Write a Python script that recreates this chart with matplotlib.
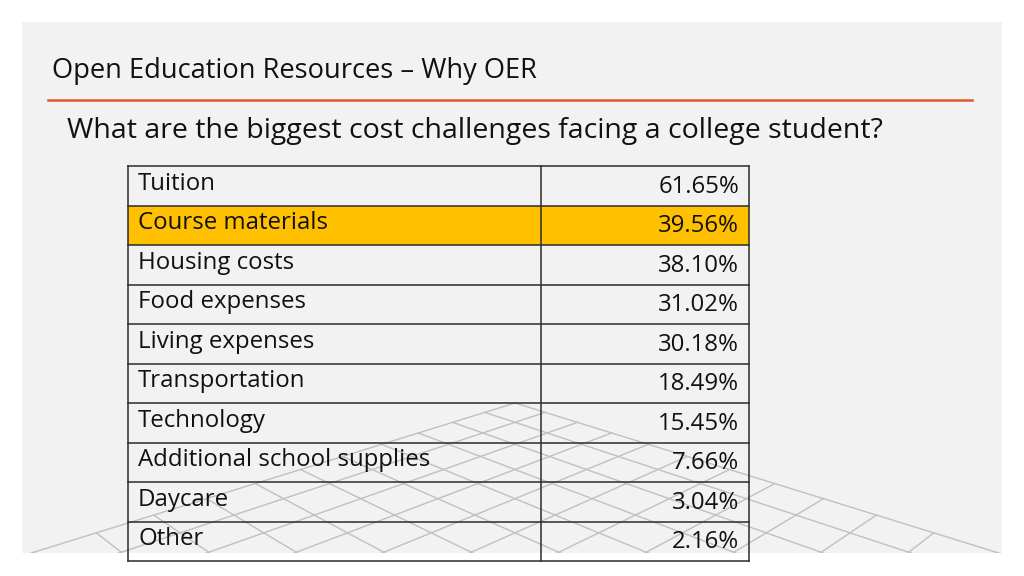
import numpy as np
import matplotlib as mpl
mpl.use("agg")
import matplotlib.pyplot as plt
from matplotlib.patches import Rectangle

plt.rcParams['font.family'] = ['Open Sans', 'DejaVu Sans']

title = "Open Education Resources \u2013 Why OER"
question = "What are the biggest cost challenges facing a college student?"
costs = ['Tuition', 'Course materials', 'Housing costs', 'Food expenses',
         'Living expenses', 'Transportation', 'Technology',
         'Additional school supplies', 'Daycare', 'Other']
shares = [61.65, 39.56, 38.10, 31.02, 30.18, 18.49, 15.45, 7.66, 3.04, 2.16]
highlight = 'Course materials'

fig = plt.figure(figsize=(10.24, 5.76), dpi=100)
ax = fig.add_axes([0, 0, 1, 1])
ax.set_xlim(0, 1024)
ax.set_ylim(576, 0)
ax.axis('off')

# slide panel
panel = Rectangle((22, 22), 980, 531, facecolor='#f2f2f2', edgecolor='none', zorder=0)
ax.add_patch(panel)

# decorative perspective floor grid (diamond lattice)
cx, hy, F, FH, z_apex, s = 515, 100, 977, 3030, 10.0, 0.3
t = np.linspace(0, 40, 600)
for i in range(41):
    for fam in (0, 1):
        u = np.full_like(t, i) if fam == 0 else t
        v = t if fam == 0 else np.full_like(t, i)
        X = (u - v) * s
        Z = z_apex - (u + v) * s
        ok = Z > 0.5
        sx = cx + F * X[ok] / Z[ok]
        sy = hy + FH / Z[ok]
        ln, = ax.plot(sx, sy, color='#c0c0c0', lw=1.0, zorder=1)
        ln.set_clip_path(panel)

ax.text(52, 71, title, fontsize=19.6, va='center', ha='left', color='#111111')
ax.plot([48, 972], [100, 100], color='#e0562e', lw=1.8, zorder=2)
ax.text(67, 131, question, fontsize=20.5, va='center', ha='left', color='#111111')

# table
x0, xm, x1 = 128, 541, 749
top, rh = 166, 39.5
for k, (name, val) in enumerate(zip(costs, shares)):
    y = top + k * rh
    if name == highlight:
        ax.add_patch(Rectangle((x0, y), x1 - x0, rh, facecolor='#ffc000',
                               edgecolor='none', zorder=0.5))
    ax.text(x0 + 10, y + rh / 2 - 2, name, fontsize=17.3, va='center',
            ha='left', color='#111111', zorder=4)
    ax.text(x1 - 10, y + rh / 2 + 1, f"{val:.2f}%", fontsize=17.3,
            va='center', ha='right', color='#111111', zorder=4)

bottom = top + len(costs) * rh
for k in range(len(costs) + 1):
    y = top + k * rh
    ax.plot([x0, x1], [y, y], color='#2b2b2b', lw=1.1, zorder=3)
for x in (x0, xm, x1):
    ax.plot([x, x], [top, bottom], color='#2b2b2b', lw=1.1, zorder=3)

fig.savefig('out.png', dpi=100)
